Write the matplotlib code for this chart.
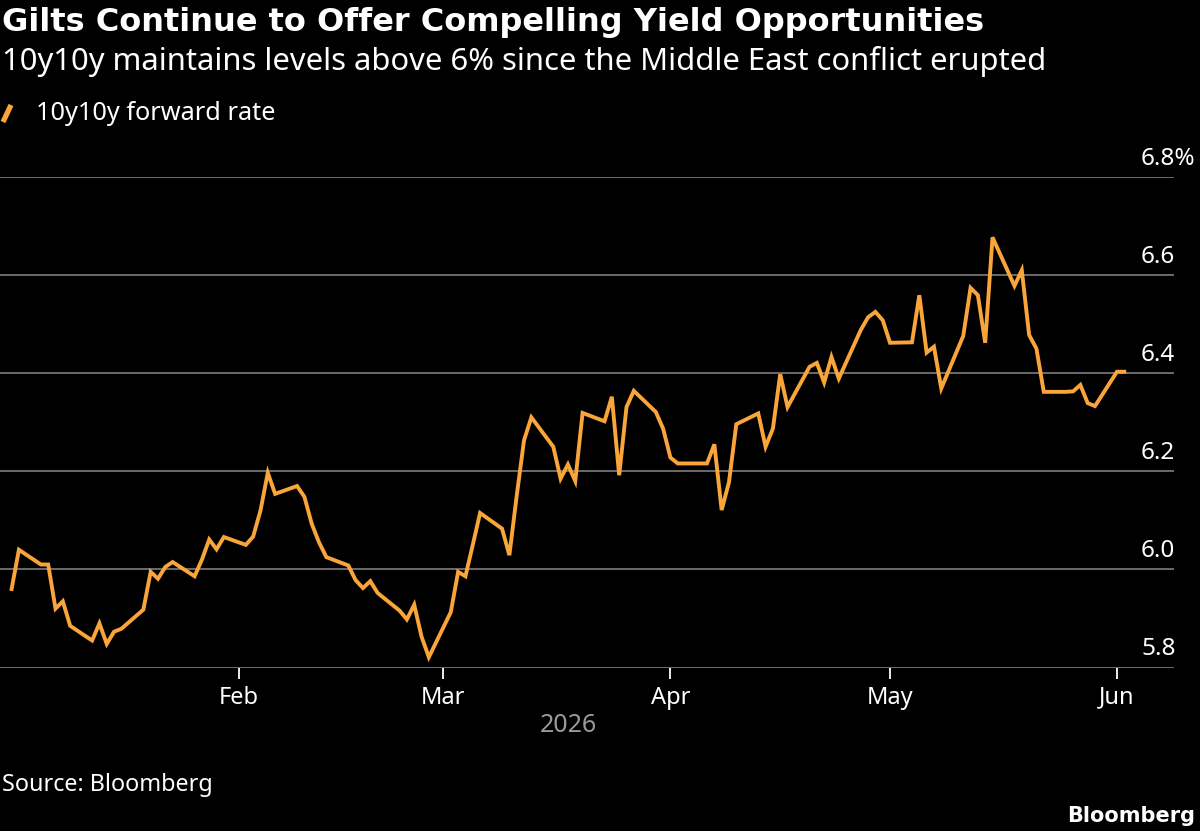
import matplotlib
matplotlib.use("Agg")
import matplotlib.pyplot as plt
from matplotlib.lines import Line2D
import pandas as pd
from datetime import datetime

# 10y10y forward rate, business days Jan 1 - Jun 2 2026
jan = [5.96, 6.04, 6.01, 6.01, 5.92, 5.935, 5.885, 5.855, 5.89, 5.848, 5.873, 5.879,
       5.918, 5.995, 5.981, 6.005, 6.015, 5.986, 6.02, 6.061, 6.041, 6.066]
feb = [6.05, 6.067, 6.12, 6.197, 6.154, 6.17, 6.148, 6.093, 6.055, 6.025, 6.008, 5.978,
       5.962, 5.976, 5.952, 5.916, 5.898, 5.928, 5.863, 5.821]
mar = [5.913, 5.995, 5.986, 6.05, 6.115, 6.083, 6.029, 6.15, 6.263, 6.31, 6.25, 6.185,
       6.214, 6.18, 6.319, 6.302, 6.352, 6.192, 6.331, 6.364, 6.321, 6.287]
apr = [6.228, 6.216, 6.216, 6.216, 6.255, 6.121, 6.178, 6.296, 6.318, 6.25, 6.287, 6.398,
       6.331, 6.413, 6.421, 6.381, 6.433, 6.389, 6.488, 6.514, 6.525, 6.508]
may = [6.462, 6.463, 6.559, 6.442, 6.454, 6.369, 6.476, 6.574, 6.559, 6.462, 6.677, 6.578,
       6.61, 6.478, 6.45, 6.362, 6.362, 6.363, 6.376, 6.339, 6.333]
jun = [6.403, 6.403]
rate = jan + feb + mar + apr + may + jun
dates = pd.bdate_range("2026-01-01", "2026-06-02")

yticks = [5.8, 6.0, 6.2, 6.4, 6.6, 6.8]
ylabels = ["5.8", "6.0", "6.2", "6.4", "6.6", "6.8%"]
month_ticks = [datetime(2026, m, 1) for m in [2, 3, 4, 5, 6]]
month_labels = ["Feb", "Mar", "Apr", "May", "Jun"]

ORANGE = "#f9a53a"
GRID = "#6b6b6b"
FONT = "Noto Sans"
BOLD = "DejaVu Sans"

W, H = 1200, 831
fig = plt.figure(figsize=(12, 8.31), dpi=100, facecolor="black")
ax = fig.add_axes([0, (H - 667.5) / H, 1174 / W, (667.5 - 177) / H], facecolor="black")

ax.plot(dates, rate, color=ORANGE, lw=2.8, solid_joinstyle="miter", zorder=3)

ax.set_ylim(5.8, 6.8)
ax.set_xlim(datetime(2025, 12, 30, 10), datetime(2026, 6, 8, 19))
ax.set_yticks(yticks)
ax.yaxis.grid(True, color=GRID, lw=1.4)
ax.tick_params(axis="y", length=0, labelleft=False)
for s in ax.spines.values():
    s.set_visible(False)

ax.set_xticks(month_ticks)
ax.set_xticklabels(month_labels, fontsize=17, color="white", family=FONT)
ax.tick_params(axis="x", direction="out", length=8, width=1.3, color="white", pad=5)

trans = ax.get_yaxis_transform()
for v, lab in zip(yticks, ylabels):
    ax.text(1141 / 1174, v + 0.025, lab, transform=trans, ha="left", va="baseline",
            fontsize=17.5, color="white", family=FONT, clip_on=False)

def fy(px):
    return 1 - px / H

fig.text(2 / W, fy(31), "Gilts Continue to Offer Compelling Yield Opportunities",
         fontsize=23, fontweight="bold", color="white", family=BOLD, va="baseline")
fig.text(2 / W, fy(70), "10y10y maintains levels above 6% since the Middle East conflict erupted",
         fontsize=22.3, color="white", family=FONT, va="baseline")
fig.add_artist(Line2D([3 / W, 11 / W], [fy(122), fy(105)], color=ORANGE, lw=3.8,
                      solid_capstyle="butt"))
fig.text(36 / W, fy(120.5), "10y10y forward rate", fontsize=18.2, color="white",
         family=FONT, va="baseline")
fig.text(568 / W, fy(725), "2026", fontsize=18, color="#9a9a9a", family=FONT,
         ha="center", va="center")
fig.text(2 / W, fy(791), "Source: Bloomberg", fontsize=16.8, color="white",
         family=FONT, va="baseline")
fig.text(1195 / W, fy(822), "Bloomberg", fontsize=15, fontweight="bold",
         color="white", family=BOLD, ha="right", va="baseline")

fig.savefig("out.png", dpi=100, facecolor="black")
